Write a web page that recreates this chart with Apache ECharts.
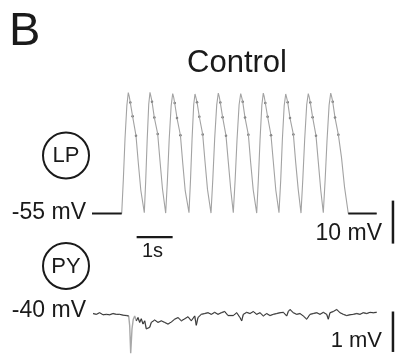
<!DOCTYPE html>
<html>
<head>
<meta charset="utf-8">
<script src="https://cdn.jsdelivr.net/npm/echarts@6/dist/echarts.min.js"></script>
<style>
  html, body { margin: 0; padding: 0; background: #fff; }
  #chart { width: 401px; height: 356px; }
</style>
</head>
<body>
<div id="chart"></div>
<script>
// LP trace: time (s) and membrane potential (mV)
var lpTime = [
  0.000, 0.825,
  0.871, 0.917, 0.968, 1.008, 1.036, 1.064, 1.128, 1.222, 1.286, 1.356, 1.453,
  1.492, 1.532, 1.576, 1.611, 1.639, 1.667, 1.731, 1.825, 1.889, 1.958, 2.047,
  2.096, 2.144, 2.199, 2.242, 2.269, 2.297, 2.361, 2.456, 2.519, 2.589, 2.694,
  2.736, 2.778, 2.825, 2.861, 2.889, 2.917, 2.981, 3.075, 3.139, 3.208, 3.306,
  3.356, 3.407, 3.464, 3.508, 3.536, 3.564, 3.628, 3.722, 3.786, 3.856, 3.925,
  3.976, 4.028, 4.086, 4.131, 4.158, 4.186, 4.250, 4.344, 4.408, 4.478, 4.575,
  4.621, 4.667, 4.718, 4.758, 4.786, 4.814, 4.878, 4.972, 5.036, 5.106, 5.194,
  5.242, 5.288, 5.339, 5.381, 5.408, 5.436, 5.500, 5.594, 5.658, 5.728, 5.806,
  5.856, 5.907, 5.964, 6.008, 6.036, 6.064, 6.128, 6.222, 6.286, 6.356, 6.425,
  6.476, 6.528, 6.586, 6.631, 6.658, 6.686, 6.750, 6.844, 6.931, 7.014, 7.119,
  7.908
];
var lpVolt = [
  -55.0, -55.0,
  -47.0, -37.6, -29.9, -26.9, -27.8, -29.2, -32.4, -36.9, -43.2, -49.6, -54.8,
  -47.4, -38.1, -29.6, -26.8, -27.9, -29.0, -32.7, -36.5, -42.8, -49.3, -54.9,
  -47.1, -37.8, -29.9, -27.1, -28.0, -29.3, -32.8, -36.8, -43.1, -49.7, -54.8,
  -47.3, -38.0, -29.7, -27.2, -28.1, -29.1, -32.5, -36.6, -42.9, -49.4, -54.9,
  -47.0, -37.7, -29.8, -27.0, -27.9, -29.2, -32.6, -36.9, -43.0, -49.6, -54.8,
  -47.2, -37.9, -29.7, -27.1, -28.0, -29.0, -32.7, -36.7, -43.2, -49.5, -54.9,
  -47.1, -38.0, -29.8, -27.0, -27.9, -29.3, -32.5, -36.8, -42.9, -49.6, -54.8,
  -47.3, -37.8, -29.9, -27.2, -28.1, -29.1, -32.8, -36.6, -43.1, -49.4, -54.9,
  -47.0, -37.9, -29.7, -27.1, -28.0, -29.2, -32.6, -36.9, -43.0, -49.7, -54.8,
  -47.2, -38.1, -29.8, -27.0, -27.9, -29.0, -32.7, -36.7, -42.0, -48.8, -55.0,
  -55.0
];

// PY trace
var pyTime = [
  0.028, 0.120, 0.213, 0.306, 0.398, 0.491, 0.583, 0.676, 0.769, 0.861, 0.954, 1.019,
  1.047, 1.075, 1.111, 1.147, 1.186,
  1.231, 1.278, 1.325, 1.369, 1.417, 1.464, 1.508, 1.603, 1.647, 1.742, 1.833, 1.925,
  2.019, 2.111, 2.203, 2.297, 2.389, 2.481, 2.575, 2.667, 2.758, 2.853, 2.897, 2.944,
  3.036, 3.131, 3.222, 3.314, 3.408, 3.500, 3.592, 3.686, 3.778, 3.833, 3.925,
  4.019, 4.111, 4.158, 4.203, 4.297, 4.389, 4.481, 4.575, 4.667, 4.758, 4.853, 4.944,
  5.036, 5.131, 5.222, 5.314, 5.408, 5.453, 5.500, 5.592, 5.686, 5.778, 5.869, 5.964,
  6.056, 6.147, 6.242, 6.333, 6.425, 6.519, 6.564, 6.611, 6.703, 6.797, 6.889, 6.981,
  7.075, 7.167, 7.258, 7.353, 7.444, 7.536, 7.631, 7.722, 7.814, 7.908
];
var pyVolt = [
  -40.00, -40.02, -39.98, -40.03, -40.02, -40.03, -40.00, -40.02, -40.02, -40.04, -40.05, -40.06,
  -40.30, -40.98, -40.38, -40.14, -40.06,
  -40.18, -40.10, -40.22, -40.13, -40.26, -40.18, -40.38, -40.34, -40.22, -40.16, -40.22, -40.18,
  -40.22, -40.26, -40.21, -40.14, -40.10, -40.18, -40.13, -40.08, -40.18, -40.06, -40.29, -40.10,
  -40.02, -40.00, -39.98, -40.02, -39.97, -40.02, -39.98, -39.95, -40.05, -40.06, -40.05,
  -39.98, -40.10, -40.18, -40.02, -39.97, -40.00, -39.95, -40.02, -39.98, -40.06, -40.00, -40.05,
  -40.02, -40.00, -39.98, -39.97, -40.06, -39.95, -39.90, -39.98, -40.02, -40.00, -40.06, -40.14,
  -40.02, -40.00, -39.98, -40.02, -39.97, -40.02, -40.14, -39.98, -39.95, -39.90, -39.98, -40.02,
  -40.05, -40.03, -40.02, -40.00, -40.02, -39.98, -40.00, -39.97, -39.98, -39.97
];
var pyDip = [12, 16]; // index range of the spike (grey trace only)

// scale bars
var barTime = [1.24, 2.24];      // 1 s bar
var barTimeY = -60.5;
var barLpX = 8.36;
var barLp = [-52, -62];          // 10 mV
var barPy = [-39.95, -40.95];    // 1 mV

function pairs(t, v) {
  return t.map(function (x, i) { return [x, v[i]]; });
}

var lpData = pairs(lpTime, lpVolt);
var pyData = pairs(pyTime, pyVolt);
var pyBlack1 = pyData.slice(0, pyDip[0]);
var pyBlack2 = pyData.slice(pyDip[1] + 1);
var n = lpData.length;
// black dots on the falling shoulders (overlay trace)
var lpDots = [];
for (var b = 0; b < 10; b++) {
  var s = 2 + 11 * b;
  lpDots.push(lpData[s + 5], lpData[s + 6], lpData[s + 7]);
}

var INK = '#1a1a1a';
var FONT = 'Liberation Sans, Arial, Helvetica, sans-serif';

var chart = echarts.init(document.getElementById('chart'));
var option = {
  animation: false,
  backgroundColor: '#fff',
  grid: [
    { left: 92, right: 3, top: 80.2, height: 163.4 },
    { left: 92, right: 3, top: 301.4, height: 56.7 }
  ],
  xAxis: [
    { gridIndex: 0, type: 'value', min: 0, max: 8.5, show: false },
    { gridIndex: 1, type: 'value', min: 0, max: 8.5, show: false }
  ],
  yAxis: [
    { gridIndex: 0, type: 'value', min: -62, max: -24, show: false },
    { gridIndex: 1, type: 'value', min: -41.05, max: -39.7, show: false }
  ],
  series: [
    {
      type: 'line', xAxisIndex: 0, yAxisIndex: 0, data: lpData,
      showSymbol: false, clip: false,
      lineStyle: { color: '#a3a3a3', width: 1.1 }
    },
    {
      type: 'line', xAxisIndex: 0, yAxisIndex: 0, data: lpData.slice(0, 2),
      showSymbol: false, clip: false,
      lineStyle: { color: INK, width: 2 }
    },
    {
      type: 'line', xAxisIndex: 0, yAxisIndex: 0, data: lpData.slice(n - 2),
      showSymbol: false, clip: false,
      lineStyle: { color: INK, width: 2 }
    },
    {
      type: 'scatter', xAxisIndex: 0, yAxisIndex: 0, data: lpDots,
      symbolSize: 2.5, itemStyle: { color: '#444' }
    },
    {
      type: 'line', xAxisIndex: 1, yAxisIndex: 1, data: pyData,
      showSymbol: false, clip: false,
      lineStyle: { color: '#a8a8a8', width: 1.4 }
    },
    {
      type: 'line', xAxisIndex: 1, yAxisIndex: 1, data: pyBlack1,
      showSymbol: false, clip: false,
      lineStyle: { color: '#2a2a2a', width: 0.9 }
    },
    {
      type: 'line', xAxisIndex: 1, yAxisIndex: 1, data: pyBlack2,
      showSymbol: false, clip: false,
      lineStyle: { color: '#2a2a2a', width: 0.9 }
    },
    // scale bars
    {
      type: 'line', xAxisIndex: 0, yAxisIndex: 0,
      data: [[barTime[0], barTimeY], [barTime[1], barTimeY]],
      showSymbol: false, clip: false,
      lineStyle: { color: INK, width: 2.2 }
    },
    {
      type: 'line', xAxisIndex: 0, yAxisIndex: 0,
      data: [[barLpX, barLp[0]], [barLpX, barLp[1]]],
      showSymbol: false, clip: false,
      lineStyle: { color: INK, width: 2.5 }
    },
    {
      type: 'line', xAxisIndex: 1, yAxisIndex: 1,
      data: [[barLpX, barPy[0]], [barLpX, barPy[1]]],
      showSymbol: false, clip: false,
      lineStyle: { color: INK, width: 2.5 }
    }
  ],
  graphic: [
    { type: 'text', x: 9, y: 32, style: { text: 'B', font: '47px ' + FONT, fill: INK, textVerticalAlign: 'middle' } },
    { type: 'text', x: 237, y: 63, style: { text: 'Control', font: '31px ' + FONT, fill: INK, textAlign: 'center', textVerticalAlign: 'middle' } },
    { type: 'circle', shape: { cx: 66, cy: 155.5, r: 23 }, style: { fill: 'none', stroke: INK, lineWidth: 2 } },
    { type: 'text', x: 66, y: 156, style: { text: 'LP', font: '22px ' + FONT, fill: INK, textAlign: 'center', textVerticalAlign: 'middle' } },
    { type: 'circle', shape: { cx: 66, cy: 266, r: 23 }, style: { fill: 'none', stroke: INK, lineWidth: 2 } },
    { type: 'text', x: 66, y: 266.5, style: { text: 'PY', font: '22px ' + FONT, fill: INK, textAlign: 'center', textVerticalAlign: 'middle' } },
    { type: 'text', x: 86, y: 213, style: { text: '-55 mV', font: '23px ' + FONT, fill: INK, textAlign: 'right', textVerticalAlign: 'middle' } },
    { type: 'text', x: 86, y: 311, style: { text: '-40 mV', font: '23px ' + FONT, fill: INK, textAlign: 'right', textVerticalAlign: 'middle' } },
    { type: 'text', x: 382, y: 234, style: { text: '10 mV', font: '23px ' + FONT, fill: INK, textAlign: 'right', textVerticalAlign: 'middle' } },
    { type: 'text', x: 382, y: 341, style: { text: '1 mV', font: '22px ' + FONT, fill: INK, textAlign: 'right', textVerticalAlign: 'middle' } },
    { type: 'text', x: 152.5, y: 251.5, style: { text: '1s', font: '20px ' + FONT, fill: INK, textAlign: 'center', textVerticalAlign: 'middle' } }
  ]
};
chart.setOption(option);
</script>
</body>
</html>
